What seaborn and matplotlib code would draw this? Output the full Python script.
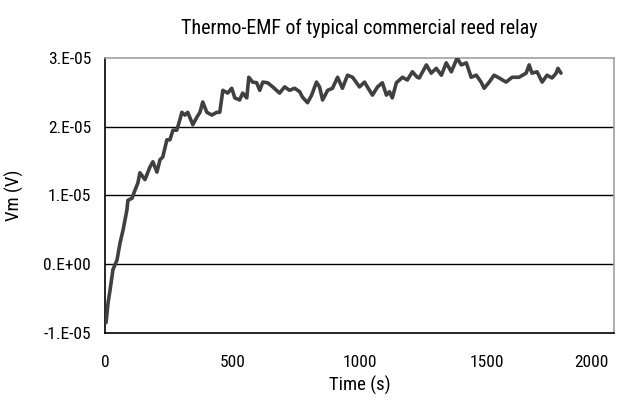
import numpy as np
import pandas as pd
import matplotlib
matplotlib.use("Agg")
import matplotlib.pyplot as plt
import matplotlib.transforms as mtransforms
import seaborn as sns

time_s = [4, 12, 20, 31, 47, 59, 71, 86, 90, 106, 118, 129, 137, 157, 176, 188, 204, 216,
          227, 243, 255, 267, 282, 294, 302, 314, 325, 345, 361, 373, 384, 400, 420, 439,
          451, 463, 482, 498, 510, 529, 541, 557, 565, 580, 596, 608, 620, 639, 659, 686,
          706, 725, 745, 765, 776, 796, 812, 831, 843, 855, 875, 894, 914, 933, 953, 973,
          1000, 1020, 1031, 1051, 1071, 1090, 1106, 1118, 1129, 1145, 1169, 1188, 1208,
          1227, 1235, 1263, 1282, 1302, 1322, 1341, 1361, 1384, 1400, 1420, 1439, 1459,
          1478, 1490, 1510, 1529, 1549, 1576, 1600, 1627, 1655, 1667, 1678, 1698, 1718,
          1737, 1757, 1773, 1780, 1792]
vm_uv = [-8.5, -5.6, -3.7, -0.8, 0.6, 3.1, 5.0, 7.9, 9.3, 9.6, 10.8, 11.8, 13.3, 12.3,
         14.1, 14.9, 13.4, 15.2, 15.6, 18.1, 18.1, 19.5, 19.5, 21.0, 22.1, 21.7, 22.1, 20.3,
         21.4, 22.1, 23.6, 22.1, 21.7, 22.1, 22.1, 25.3, 24.9, 25.6, 24.2, 23.9, 24.9, 24.2,
         27.2, 26.5, 26.4, 25.3, 26.5, 26.4, 25.8, 24.9, 25.8, 25.3, 25.6, 25.1, 24.3, 23.5,
         24.6, 26.5, 25.8, 23.9, 25.3, 25.6, 27.2, 25.6, 27.5, 27.2, 25.8, 26.5, 25.8, 24.6,
         25.8, 26.4, 24.6, 25.1, 24.2, 26.4, 27.2, 26.8, 28.0, 27.2, 27.1, 29.0, 27.8, 28.5,
         27.5, 29.3, 28.0, 30.0, 29.0, 29.3, 27.2, 27.5, 26.5, 25.6, 26.5, 27.5, 27.1, 26.5,
         27.2, 27.2, 27.8, 29.0, 27.8, 28.0, 26.5, 27.5, 27.1, 27.8, 28.5, 27.8]

x_ticks = [0, 500, 1000, 1500, 2000]
y_ticks = [-1e-5, 0, 1e-5, 2e-5, 3e-5]
y_tick_labels = ["-1.E-05", "0.E+00", "1.E-05", "2.E-05", "3.E-05"]

df = pd.DataFrame({"Time (s)": time_s, "Vm (V)": np.array(vm_uv) * 1e-6})

sns.set_style("white")
plt.rcParams['font.family'] = ['Liberation Sans Narrow', 'Roboto Condensed',
                               'Open Sans Condensed', 'Liberation Sans', 'DejaVu Sans']
plt.rcParams['text.color'] = 'black'
plt.rcParams['axes.labelcolor'] = 'black'

fig = plt.figure(figsize=(6.29, 4.03), dpi=100)
ax = fig.add_axes([0.167, 0.174, 0.809, 0.682])

for v in y_ticks[1:-1]:
    ax.axhline(v, color="black", lw=1.0, zorder=1)

sns.lineplot(data=df, x="Time (s)", y="Vm (V)", ax=ax, color="#404040", lw=2.6, zorder=3)

ax.set_xlim(0, 2000)
ax.set_ylim(-1e-5, 3e-5)
ax.set_xticks(x_ticks)
ax.set_yticks(y_ticks)
ax.set_yticklabels(y_tick_labels)

for side in ["left", "bottom"]:
    ax.spines[side].set_color("black")
    ax.spines[side].set_linewidth(1.2)
for side in ["top", "right"]:
    ax.spines[side].set_color("#a0a0a0")
    ax.spines[side].set_linewidth(1.2)

ax.tick_params(axis="x", direction="inout", length=8, width=1.2, colors="black",
               labelsize=12.5, pad=12)
ax.tick_params(axis="y", direction="out", length=5, width=1.2, colors="black",
               labelsize=12.5, pad=5)

# last x label sits a bit inside the right edge, like the original
last = ax.get_xticklabels()[-1]
last.set_transform(last.get_transform() +
                   mtransforms.ScaledTranslation(-22 / 100, 0, fig.dpi_scale_trans))

ax.set_xlabel("Time (s)", fontsize=13.5, labelpad=4)
ax.set_ylabel("Vm (V)", fontsize=13.5, labelpad=14)
ax.set_title("Thermo-EMF of typical commercial reed relay", fontsize=14.4, pad=17)

fig.savefig("out.png", dpi=100)
